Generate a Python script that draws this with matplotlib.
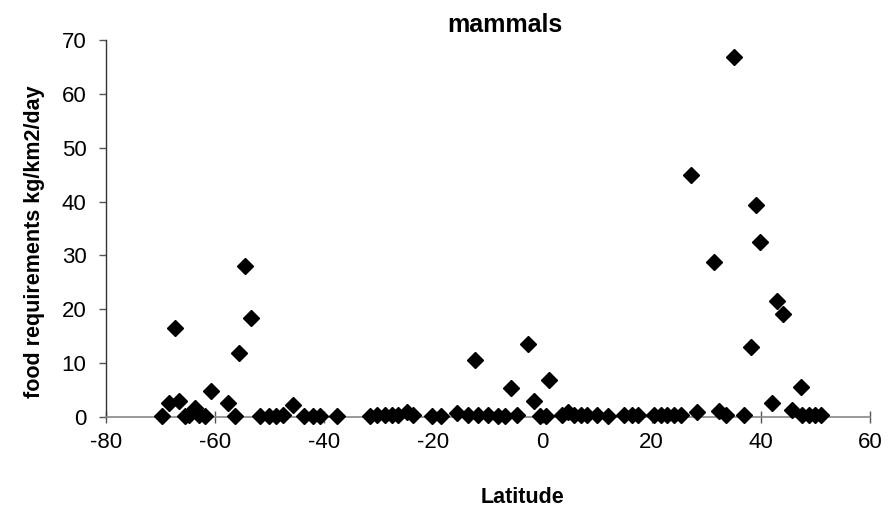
import matplotlib
matplotlib.use("Agg")
import matplotlib.pyplot as plt

# latitude and food requirement (kg/km2/day) of mammals
latitude = [
    -69.8, -68.5, -67.4, -66.7, -65.6, -64.7, -63.7, -63.0, -61.9, -60.8,
    -57.7, -56.4, -55.7, -54.6, -53.5, -51.7, -50.2, -48.8, -47.5, -45.8,
    -43.8, -42.0, -40.7, -37.6,
    -31.6, -30.3, -28.9, -27.6, -26.5, -24.8, -23.7, -20.3, -18.6, -15.7,
    -13.7, -12.4, -11.9, -10.0, -8.2, -6.8, -5.7, -4.6, -2.6, -1.5, -0.5,
    0.7, 1.1, 3.5, 4.6, 5.8, 7.1, 8.2, 9.9, 11.9, 15.0, 16.3, 17.4,
    20.5, 21.7, 22.8, 24.1, 25.4, 27.2, 28.3, 31.4, 32.3, 33.6, 35.1,
    36.9, 38.2, 39.1, 39.8, 42.0, 42.9, 44.0, 45.7, 47.3, 47.5, 48.8,
    50.0, 51.1,
]
food = [
    0.1, 2.6, 16.5, 3.0, 0.2, 0.4, 1.7, 0.3, 0.1, 4.8,
    2.6, 0.1, 11.8, 28.0, 18.3, 0.1, 0.2, 0.2, 0.3, 2.2,
    0.2, 0.2, 0.2, 0.2,
    0.2, 0.3, 0.3, 0.3, 0.4, 0.9, 0.3, 0.2, 0.2, 0.7,
    0.3, 10.5, 0.3, 0.3, 0.2, 0.2, 5.3, 0.3, 13.6, 3.0, 0.2,
    0.2, 6.8, 0.3, 1.0, 0.3, 0.3, 0.3, 0.3, 0.2, 0.3, 0.3, 0.3,
    0.3, 0.3, 0.4, 0.3, 0.3, 45.0, 1.0, 28.7, 1.2, 0.3, 66.8,
    0.4, 13.0, 39.3, 32.5, 2.6, 21.5, 19.2, 1.3, 5.5, 0.4, 0.3,
    0.3, 0.3,
]

x_ticks = [-80, -60, -40, -20, 0, 20, 40, 60]
y_ticks = [0, 10, 20, 30, 40, 50, 60, 70]

plt.rcParams['font.family'] = ['Liberation Sans', 'DejaVu Sans']
plt.rcParams['axes.unicode_minus'] = False

fig = plt.figure(figsize=(8.93, 5.13), dpi=100)
ax = fig.add_axes([106/893, 1-417/513, (870-106)/893, (417-40)/513])

ax.plot(latitude, food, linestyle='none', marker='D', markersize=8,
        color='black', markeredgecolor='black', clip_on=False, zorder=3)

ax.set_xlim(-80, 60)
ax.set_ylim(0, 70)
ax.set_xticks(x_ticks)
ax.set_yticks(y_ticks)
ax.tick_params(axis='both', labelsize=16, length=5, width=1, color='#555555')
ax.tick_params(axis='x', direction='inout', length=8, pad=7)
ax.tick_params(axis='y', direction='out', pad=9)

ax.spines['top'].set_visible(False)
ax.spines['right'].set_visible(False)
ax.spines['left'].set_color('#333333')
ax.spines['bottom'].set_color('#888888')
ax.spines['left'].set_linewidth(1)
ax.spines['bottom'].set_linewidth(1.2)

ax.set_title('mammals', fontsize=18, fontweight='bold', x=0.522, pad=6)
ax.set_xlabel('Latitude', fontsize=15.5, fontweight='bold')
ax.xaxis.set_label_coords(0.545, -0.185)
ax.set_ylabel('food requirements kg/km2/day', fontsize=15.5, fontweight='bold')
ax.yaxis.set_label_coords(-0.080, 0.464)

fig.savefig('out.png', dpi=100)
